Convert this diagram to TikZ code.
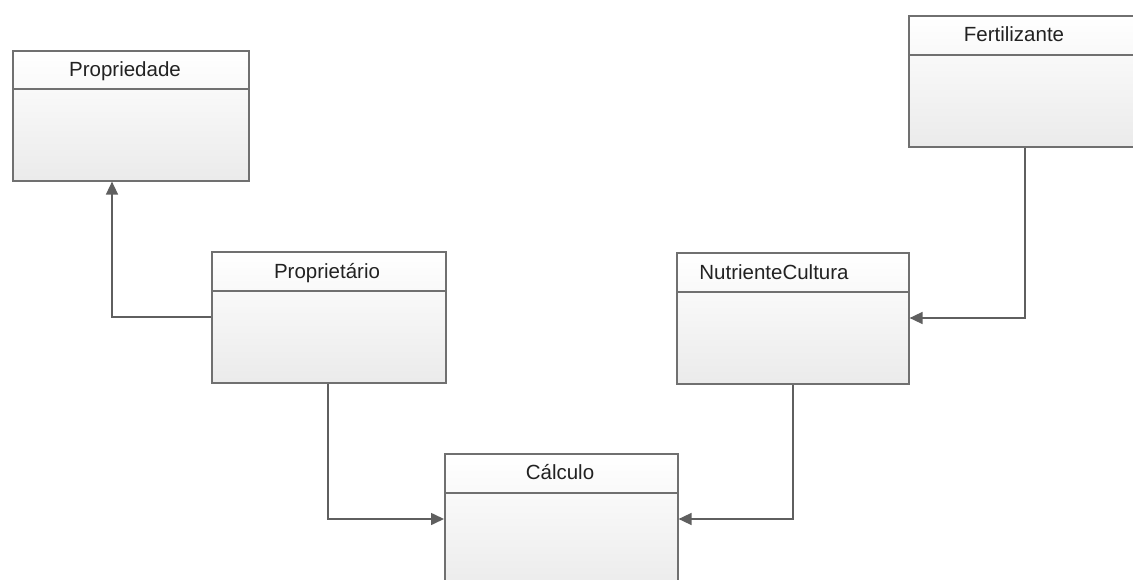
\documentclass[tikz,border=0pt]{standalone}
\usepackage{fontspec}
\setmainfont{Liberation Sans}
\usetikzlibrary{arrows.meta}
\definecolor{edge}{HTML}{707070}
\definecolor{txt}{HTML}{222222}
\tikzset{
  clsbox/.style={draw=edge, line width=1.6pt, top color=white, bottom color=black!8, anchor=north west, inner sep=0pt},
  clstitle/.style={anchor=north, inner sep=0pt, font=\fontsize{20.5}{20.5}\selectfont, text=txt},
  hdrline/.style={draw=edge, line width=1.4pt},
  conn/.style={draw=edge!85!black, line width=1.6pt, -{Triangle[length=13pt,width=12pt]}}
}
\begin{document}
\begin{tikzpicture}[x=1pt,y=-1pt]
\useasboundingbox (0,0) rectangle (1133,580);
% classes
\node[clsbox, minimum width=236pt, minimum height=130pt] (prop) at (12,50) {};
\node[clsbox, minimum width=232pt, minimum height=131pt] (fert) at (908,15) {};
\node[clsbox, minimum width=234pt, minimum height=131pt] (dono) at (211,251) {};
\node[clsbox, minimum width=232pt, minimum height=131pt] (nutr) at (676,252) {};
\node[clsbox, minimum width=233pt, minimum height=140pt] (calc) at (444,453) {};
% headers
\draw[hdrline] (12,89) -- (248,89);
\draw[hdrline] (908,55) -- (1140,55);
\draw[hdrline] (211,291) -- (445,291);
\draw[hdrline] (676,292) -- (908,292);
\draw[hdrline] (444,493) -- (677,493);
% titles
\node[clstitle] (tprop) at (125,61) {Propriedade};
\node[clstitle] (tfert) at (1014,26) {Fertilizante};
\node[clstitle] (tdono) at (327,263) {Proprietário};
\node[clstitle] (tnutr) at (774,264) {NutrienteCultura};
\node[clstitle] (tcalc) at (560,464) {Cálculo};
% connectors
\coordinate (c1) at (112,317);
\coordinate (c2) at (1025,318);
\coordinate (c3) at (328,519);
\coordinate (c4) at (793,519);
\draw[conn] (dono.west |- c1) -- (c1) -- (c1 |- prop.south);
\draw[conn] (c2 |- fert.south) -- (c2) -- (nutr.east |- c2);
\draw[conn] (c3 |- dono.south) -- (c3) -- (calc.west |- c3);
\draw[conn] (c4 |- nutr.south) -- (c4) -- (calc.east |- c4);
\end{tikzpicture}
\end{document}
